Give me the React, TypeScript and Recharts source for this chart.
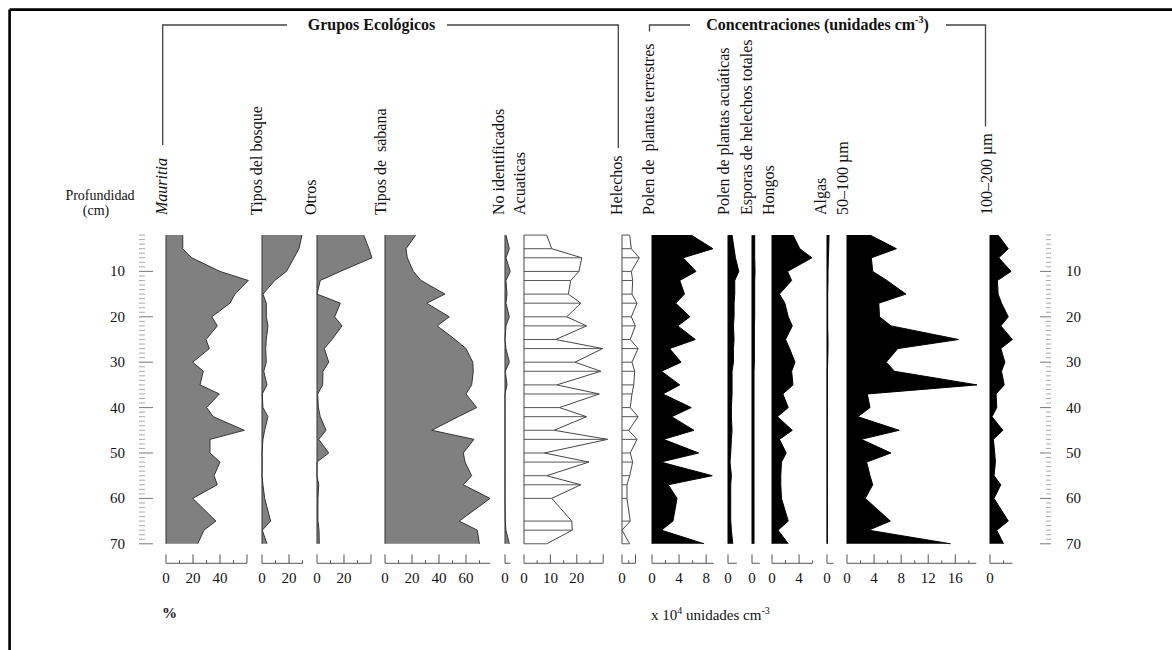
import React from 'react';
import { AreaChart, Area, XAxis, YAxis, ReferenceLine } from 'recharts';

// sample depths (cm)
const depths = [2, 5, 7, 10, 12, 15, 17, 20, 22, 25, 27, 30, 32, 35, 37, 40, 42, 45, 47, 50, 52, 55, 57, 60, 65, 67, 70];

// ecological groups (%)
const mauritia = [12.4, 12.4, 19.0, 40.0, 61.0, 51.1, 47.4, 33.9, 38.0, 29.6, 32.1, 19.8, 27.6, 25.2, 39.5, 30.1, 35.0, 58.0, 32.6, 32.6, 40.0, 35.6, 38.0, 19.8, 37.0, 28.1, 23.5];
const tiposBosque = [29.6, 27.4, 23.7, 18.1, 9.4, 0.7, 3.2, 3.2, 4.4, 3.2, 2.7, 3.2, 1.3, 3.7, 0.2, 0.7, 4.4, 2.0, 0.7, 0, 0.2, 0, 0.7, 2.0, 6.4, 0.2, 3.7];
const otros = [34.6, 38.5, 40.7, 17.3, 2.4, 0, 17.3, 13.1, 18.5, 11.1, 5.4, 8.7, 4.4, 4.2, 0.5, 1.0, 2.4, 6.7, 1.3, 8.7, 0, 0, 1.3, 0.7, 0.7, 1.5, 1.7];
const tiposSabana = [22.7, 15.6, 16.5, 21.0, 26.7, 44.4, 30.9, 47.6, 38.7, 51.9, 60.0, 65.0, 65.4, 64.2, 60.0, 67.9, 54.3, 34.6, 65.9, 58.0, 59.3, 64.2, 58.0, 77.8, 55.0, 68.4, 69.9];
const noIdentificados = [0.7, 3.2, 0.7, 3.9, 0.7, 1.5, 0.7, 3.2, 0.7, 0, 0.7, 3.2, 0.2, 1.5, 0, 0, 0, 0, 0, 0, 0, 0, 0, 0, 0.2, 0.7, 3.2];
const acuaticas = [8.6, 10.5, 21.9, 20.8, 17.7, 16.8, 21.5, 16.2, 23.7, 12.0, 29.8, 19.3, 29.1, 12.4, 28.5, 13.4, 23.7, 11.4, 31.7, 7.7, 24.6, 8.6, 21.5, 10.5, 18.1, 18.3, 8.6];
const helechos = [5.7, 6.9, 12.8, 6.9, 7.9, 7.4, 11.1, 6.9, 9.9, 6.1, 11.9, 7.4, 9.4, 8.7, 7.4, 6.1, 11.9, 5.0, 11.1, 6.1, 7.9, 5.7, 3.7, 3.7, 6.1, 0, 5.7];

// concentrations (x 10^4 units cm-3)
const polenTerrestres = [5.8, 9.0, 4.6, 6.5, 4.1, 4.8, 3.5, 5.6, 3.8, 6.4, 2.6, 4.3, 1.4, 4.1, 1.6, 5.8, 2.9, 6.2, 1.7, 6.9, 1.3, 8.9, 2.4, 3.7, 3.1, 1.4, 7.7];
const polenAcuaticas = [0.6, 0.9, 1.1, 1.6, 1.0, 1.0, 0.9, 0.9, 0.8, 0.9, 0.8, 0.8, 0.6, 0.6, 0.6, 0.5, 0.5, 0.6, 0.5, 0.4, 0.3, 0.5, 0.4, 0.4, 0.4, 0.5, 0.7];
const esporasHelechos = [0.4, 0.4, 0.4, 0.45, 0.4, 0.4, 0.4, 0.4, 0.35, 0.35, 0.35, 0.35, 0.3, 0.3, 0.3, 0.3, 0.3, 0.3, 0.3, 0.3, 0.3, 0.3, 0.3, 0.3, 0.3, 0.3, 0.3];
const hongos = [3.1, 4.1, 5.9, 2.3, 2.9, 1.1, 1.9, 2.4, 3.0, 2.0, 2.6, 3.4, 2.9, 3.1, 1.6, 2.4, 0.8, 3.0, 1.1, 2.1, 1.4, 1.3, 1.3, 1.4, 2.4, 0.9, 2.4];
const algas = [0.3, 0.25, 0.2, 0.15, 0.15, 0.1, 0.1, 0.1, 0.1, 0.15, 0.15, 0.1, 0.05, 0.05, 0.05, 0.05, 0.05, 0.05, 0.05, 0.05, 0.05, 0.05, 0.05, 0.05, 0.05, 0.05, 0.05];
const tam50a100 = [3.4, 7.3, 3.6, 3.8, 5.9, 8.7, 4.7, 4.8, 6.5, 16.5, 7.5, 5.8, 7.0, 19.2, 3.0, 3.4, 1.6, 7.7, 2.1, 6.5, 2.9, 3.4, 3.8, 2.7, 6.4, 3.2, 15.3];
const tam100a200 = [1.2, 2.7, 1.3, 3.1, 1.1, 1.2, 1.7, 2.7, 1.6, 3.3, 1.6, 2.2, 1.7, 2.1, 0.9, 1.0, 0.3, 1.9, 0.5, 0.7, 0.8, 0.6, 1.6, 0.6, 2.7, 1.0, 2.0];

// depth axis ticks
const depthTicks = Array.from({ length: 69 }, (_, i) => i + 2);
const depthLabels = [10, 20, 30, 40, 50, 60, 70];

// column headers
const columnLabels = [
  { text: 'Mauritia', x: 161.5, italic: true },
  { text: 'Tipos del bosque', x: 256.7 },
  { text: 'Otros', x: 310 },
  { text: 'Tipos de\u00a0 sabana', x: 380 },
  { text: 'No identificados', x: 498.3 },
  { text: 'Acuaticas', x: 519.3 },
  { text: 'Helechos', x: 616.7 },
  { text: 'Polen de\u00a0 plantas terrestres', x: 648.3 },
  { text: 'Polen de plantas acuáticas', x: 723.3 },
  { text: 'Esporas de helechos totales', x: 746.7 },
  { text: 'Hongos', x: 768.3 },
  { text: 'Algas', x: 820 },
  { text: '50–100 µm', x: 842.7 },
  { text: '100–200 µm', x: 986 },
];

// geometry
const TOP = 225.9;
const PX_CM = 4.54;
const DEPTH_MAX = 74.3;
const PLOT_H = DEPTH_MAX * PX_CM;
const MT = 10;
const MX = 16;
const AXIS_H = 40;
const FONT = '"Liberation Serif", "Times New Roman", serif';

const GRAY = { fill: '#808080', stroke: '#333' };
const BLACK = { fill: '#000', stroke: '#000' };
const WHITE = { fill: '#fff', stroke: '#444' };

const range = (a: number, b: number, s: number) => {
  const out: number[] = [];
  for (let v = a; v <= b + 1e-9; v += s) out.push(v);
  return out;
};

const panels = [
  { key: 'mau', values: mauritia, x0: 166, scale: 1.35, dom: 62, axisMax: 60, ticks: range(0, 60, 10), major: [0, 20, 40, 60], labels: [0, 20, 40], style: GRAY },
  { key: 'bos', values: tiposBosque, x0: 262.3, scale: 1.35, dom: 30, axisMax: 30, ticks: [0, 10, 20, 30], major: [0, 20], labels: [0, 20], style: GRAY },
  { key: 'otr', values: otros, x0: 316.7, scale: 1.35, dom: 41, axisMax: 40, ticks: range(0, 40, 10), major: [0, 20, 40], labels: [0, 20], style: GRAY },
  { key: 'sab', values: tiposSabana, x0: 385, scale: 1.35, dom: 78.5, axisMax: 78, ticks: range(0, 70, 10), major: [0, 20, 40, 60], labels: [0, 20, 40, 60], style: GRAY },
  { key: 'noi', values: noIdentificados, x0: 504.8, scale: 1.35, dom: 4, axisMax: 4, ticks: [0], major: [0], labels: [0], style: GRAY },
  { key: 'acu', values: acuaticas, x0: 524.3, scale: 2.64, dom: 32, axisMax: 30, ticks: range(0, 30, 5), major: [0, 10, 20, 30], labels: [0, 10, 20], style: WHITE, hatch: true },
  { key: 'hel', values: helechos, x0: 621.7, scale: 1.35, dom: 13, axisMax: 10, ticks: [0, 5, 10], major: [0, 10], labels: [0], style: WHITE, hatch: true },
  { key: 'pte', values: polenTerrestres, x0: 652, scale: 6.77, dom: 9.1, axisMax: 9.1, ticks: [0, 2, 4, 6, 8], major: [0, 4, 8], labels: [0, 4, 8], style: BLACK },
  { key: 'pac', values: polenAcuaticas, x0: 727.5, scale: 6.77, dom: 1.7, axisMax: 1.3, ticks: [0], major: [0], labels: [0], style: BLACK },
  { key: 'esp', values: esporasHelechos, x0: 752.3, scale: 6.77, dom: 1.2, axisMax: 1.15, ticks: [0], major: [0], labels: [0], style: BLACK },
  { key: 'hon', values: hongos, x0: 772.3, scale: 6.77, dom: 6.2, axisMax: 6, ticks: [0, 2, 4, 6], major: [0, 4], labels: [0, 4], style: BLACK },
  { key: 'alg', values: algas, x0: 826.7, scale: 6.77, dom: 1, axisMax: 0.95, ticks: [0], major: [0], labels: [0], style: BLACK },
  { key: 't50', values: tam50a100, x0: 846.7, scale: 6.77, dom: 19.5, axisMax: 19.1, ticks: range(0, 18, 2), major: [0, 4, 8, 12, 16], labels: [0, 4, 8, 12, 16], style: BLACK },
  { key: 't100', values: tam100a200, x0: 990, scale: 6.77, dom: 3.4, axisMax: 3.3, ticks: [0, 2], major: [0], labels: [0], style: BLACK },
];

type PanelDef = (typeof panels)[number];

function Panel({ p }: { p: PanelDef }) {
  const w = p.dom * p.scale;
  const rows = depths.map((d, i) => ({ depth: d, v: p.values[i] }));
  const axisY = MT + PLOT_H;

  const renderTick = (props: any) => {
    const { x, payload } = props;
    const v = payload.value;
    const major = p.major.includes(v);
    return (
      <g>
        <line x1={x} x2={x} y1={axisY} y2={axisY - (major ? 9 : 3)} stroke="#555" strokeWidth={1} />
        {p.labels.includes(v) && (
          <text x={x} y={axisY + 20} textAnchor="middle" fontFamily={FONT} fontSize={15} fill="#111">
            {v}
          </text>
        )}
      </g>
    );
  };

  return (
    <div style={{ position: 'absolute', left: p.x0 - MX, top: TOP - MT }}>
      <AreaChart
        layout="vertical"
        width={w + 2 * MX}
        height={MT + PLOT_H + AXIS_H}
        data={rows}
        margin={{ top: MT, right: MX, bottom: 0, left: MX }}
      >
        <XAxis
          type="number"
          domain={[0, p.dom]}
          ticks={p.ticks}
          interval={0}
          axisLine={false}
          tickLine={false}
          tickSize={0}
          tickMargin={0}
          height={AXIS_H}
          tick={renderTick}
        />
        <YAxis type="number" dataKey="depth" domain={[0, DEPTH_MAX]} hide />
        <Area
          dataKey="v"
          type="linear"
          fill={p.style.fill}
          fillOpacity={1}
          stroke={p.style.stroke}
          strokeWidth={1}
          isAnimationActive={false}
          dot={false}
          activeDot={false}
        />
        {p.hatch &&
          rows.map((r) => (
            <ReferenceLine
              key={r.depth}
              segment={[{ x: 0, y: r.depth }, { x: r.v, y: r.depth }]}
              stroke="#555"
              strokeWidth={1}
            />
          ))}
        <ReferenceLine segment={[{ x: 0, y: 2 }, { x: 0, y: 70 }]} stroke={p.style.stroke} strokeWidth={1} />
        <ReferenceLine segment={[{ x: 0, y: DEPTH_MAX }, { x: p.axisMax, y: DEPTH_MAX }]} stroke="#555" strokeWidth={1} />
      </AreaChart>
    </div>
  );
}

function DepthAxis({ side }: { side: 'left' | 'right' }) {
  const rows = depthTicks.map((d) => ({ depth: d }));
  const axisW = 50;
  const plotW = 20;
  const lineX = side === 'left' ? axisW : plotW;
  const left = side === 'left' ? 139.3 - axisW : 1051 - plotW;

  const renderTick = (props: any) => {
    const { y, payload } = props;
    const v = payload.value;
    const major = v % 10 === 0;
    const dir = side === 'left' ? 1 : -1;
    const len = side === 'left' ? (major ? 14 : 6) : major ? 11 : 5;
    return (
      <g>
        <line x1={lineX} x2={lineX + dir * len} y1={y} y2={y} stroke={major ? '#777' : '#aaa'} strokeWidth={1} />
        {depthLabels.includes(v) && (
          <text
            x={side === 'left' ? lineX - 14 : lineX + 15}
            y={y + 5}
            textAnchor={side === 'left' ? 'end' : 'start'}
            fontFamily={FONT}
            fontSize={15}
            fill="#111"
          >
            {v}
          </text>
        )}
      </g>
    );
  };

  return (
    <div style={{ position: 'absolute', left, top: TOP - MT }}>
      <AreaChart
        layout="vertical"
        width={axisW + plotW}
        height={MT + PLOT_H + 2}
        data={rows}
        margin={{ top: MT, right: 0, bottom: 2, left: 0 }}
      >
        <XAxis type="number" domain={[0, 1]} hide />
        <YAxis
          type="number"
          dataKey="depth"
          orientation={side}
          domain={[0, DEPTH_MAX]}
          ticks={depthTicks}
          interval={0}
          width={axisW}
          axisLine={false}
          tickLine={false}
          tickSize={0}
          tick={renderTick}
        />
        <ReferenceLine
          segment={[{ x: side === 'left' ? 0 : 1, y: 2 }, { x: side === 'left' ? 0 : 1, y: 70 }]}
          stroke="#888"
          strokeWidth={1}
        />
      </AreaChart>
    </div>
  );
}

function Decorations() {
  return (
    <svg width={1172} height={650} style={{ position: 'absolute', left: 0, top: 0 }}>
      {/* frame */}
      <line x1={9.6} y1={9.6} x2={1172} y2={9.6} stroke="#000" strokeWidth={2.6} />
      <line x1={9.6} y1={9.6} x2={9.6} y2={650} stroke="#000" strokeWidth={2.6} />

      {/* group brackets */}
      <g stroke="#444" strokeWidth={1.3} fill="none">
        <polyline points="162.7,145 162.7,25 287,25" />
        <polyline points="447,25 618.3,25 618.3,148" />
        <polyline points="649.5,31.5 649.5,25 690,25" />
        <polyline points="946,25 985.5,25 985.5,126.5" />
      </g>
      <text x={371.5} y={30} textAnchor="middle" fontFamily={FONT} fontSize={16} fontWeight="bold" fill="#111">
        Grupos Ecológicos
      </text>
      <text x={817.5} y={30} textAnchor="middle" fontFamily={FONT} fontSize={16} fontWeight="bold" fill="#111">
        Concentraciones (unidades cm
        <tspan fontSize={10} dy={-7}>-3</tspan>
        <tspan dy={7}>)</tspan>
      </text>

      {/* depth title */}
      <text x={100} y={200} textAnchor="middle" fontFamily={FONT} fontSize={14} fill="#111">
        Profundidad
      </text>
      <text x={96} y={215} textAnchor="middle" fontFamily={FONT} fontSize={14} fill="#111">
        (cm)
      </text>

      {/* column labels */}
      {columnLabels.map((c) => (
        <text
          key={c.text}
          x={c.x + 5.5}
          y={215}
          transform={`rotate(-90, ${c.x + 5.5}, 215)`}
          fontFamily={FONT}
          fontSize={16}
          fontStyle={c.italic ? 'italic' : 'normal'}
          fill="#111"
          style={{ whiteSpace: 'pre' }}
        >
          {c.text}
        </text>
      ))}

      {/* units */}
      <text x={169.5} y={618} textAnchor="middle" fontFamily={FONT} fontSize={15} fontWeight="bold" fill="#111">
        %
      </text>
      <text x={651} y={620} fontFamily={FONT} fontSize={15} fill="#111">
        x 10
        <tspan fontSize={10} dy={-6}>4</tspan>
        <tspan dy={6}> unidades cm</tspan>
        <tspan fontSize={10} dy={-6}>-3</tspan>
      </text>
    </svg>
  );
}

export default function App() {
  return (
    <div style={{ position: 'absolute', left: 0, top: 0, width: 1172, height: 650, background: '#fff' }}>
      <Decorations />
      <DepthAxis side="left" />
      <DepthAxis side="right" />
      {panels.map((p) => (
        <Panel key={p.key} p={p} />
      ))}
    </div>
  );
}
